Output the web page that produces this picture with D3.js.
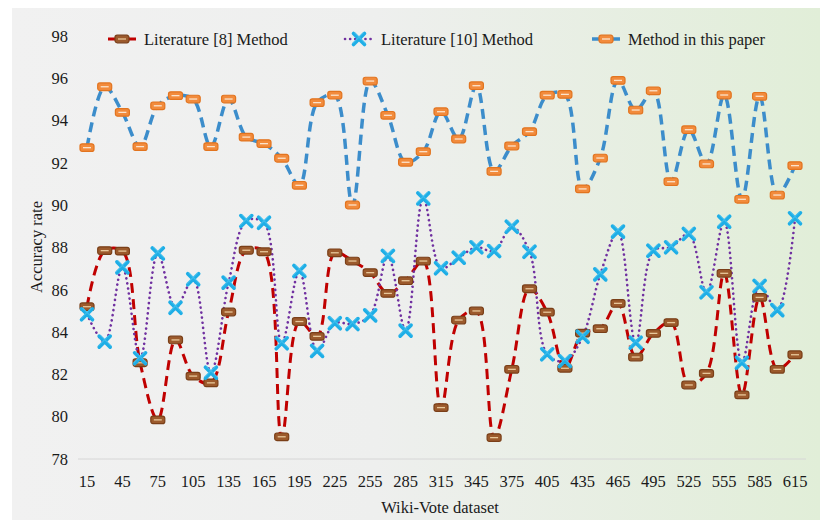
<!DOCTYPE html>
<html>
<head>
<meta charset="utf-8">
<script src="https://cdn.jsdelivr.net/npm/d3@7/dist/d3.min.js"></script>
<style>
  html, body { margin: 0; padding: 0; background: #ffffff; }
  svg { display: block; }
  text { font-family: "Liberation Serif", "Times New Roman", serif; fill: #1a1a1a; }
</style>
</head>
<body>
<svg id="chart" width="820" height="520"></svg>
<script>
// Wiki-Vote dataset sizes (x categories)
const categories = [15, 30, 45, 60, 75, 90, 105, 120, 135, 150, 165, 180, 195, 210,
  225, 240, 255, 270, 285, 300, 315, 330, 345, 360, 375, 390, 405, 420, 435, 450,
  465, 480, 495, 510, 525, 540, 555, 570, 585, 600, 615];
const xTickLabels = [15, 45, 75, 105, 135, 165, 195, 225, 255, 285, 315, 345, 375,
  405, 435, 465, 495, 525, 555, 585, 615];
const yTickLabels = [78, 80, 82, 84, 86, 88, 90, 92, 94, 96, 98];

// Accuracy rate per method
const literature8 = [85.2, 87.85, 87.83, 82.55, 79.85, 83.63, 81.92, 81.6, 84.95, 87.87,
  87.8, 79.05, 84.5, 83.8, 87.75, 87.36, 86.81, 85.83, 86.43, 87.36, 80.43, 84.57,
  85.0, 79.01, 82.24, 86.05, 84.94, 82.29, 83.95, 84.16, 85.36, 82.82, 83.94, 84.45,
  81.5, 82.05, 86.78, 81.03, 85.64, 82.24, 82.93];
const literature10 = [84.84, 83.55, 87.06, 82.76, 87.72, 85.15, 86.5, 82.08, 86.34, 89.25,
  89.17, 83.47, 86.89, 83.11, 84.42, 84.38, 84.79, 87.6, 84.07, 90.32, 87.02, 87.52,
  88.01, 87.83, 88.98, 87.8, 82.95, 82.63, 83.78, 86.73, 88.75, 83.5, 87.85, 88.01,
  88.64, 85.88, 89.22, 82.55, 86.18, 85.04, 89.38];
const thisPaper = [92.72, 95.6, 94.39, 92.77, 94.7, 95.18, 95.02, 92.77, 95.02, 93.22,
  92.91, 92.22, 90.94, 94.85, 95.2, 90.01, 95.87, 94.25, 92.03, 92.53, 94.42, 93.13,
  95.65, 91.6, 92.8, 93.48, 95.2, 95.24, 90.77, 92.23, 95.9, 94.5, 95.41, 91.11,
  93.57, 91.95, 95.21, 90.28, 95.15, 90.48, 91.87];

const seriesNames = ["Literature [8] Method", "Literature [10] Method", "Method in this paper"];

const svg = d3.select("#chart");
const W = 820, H = 520;

// background panel with a soft grey-to-green gradient
const defs = svg.append("defs");
const grad = defs.append("linearGradient").attr("id", "bg").attr("x1", "0").attr("x2", "1").attr("y1", "0").attr("y2", "0");
grad.append("stop").attr("offset", "0%").attr("stop-color", "#f1f1f1");
grad.append("stop").attr("offset", "45%").attr("stop-color", "#eeefee");
grad.append("stop").attr("offset", "100%").attr("stop-color", "#e1eed8");
svg.append("rect").attr("x", 12).attr("y", 8).attr("width", W - 12).attr("height", H - 8).attr("fill", "url(#bg)");

const x = d3.scalePoint().domain(categories).range([87, 795]);
const y = d3.scaleLinear().domain([78, 98]).range([459, 36]);

// baseline
svg.append("line").attr("x1", 78).attr("x2", 806).attr("y1", y(78)).attr("y2", y(78))
  .attr("stroke", "#d6d6d6").attr("stroke-width", 1);

// y tick labels
svg.append("g").selectAll("text").data(yTickLabels).join("text")
  .attr("x", 68).attr("y", d => y(d)).attr("dy", "0.35em")
  .attr("text-anchor", "end").attr("font-size", 16.5).text(d => d);

// x tick labels
svg.append("g").selectAll("text").data(xTickLabels).join("text")
  .attr("x", d => x(d)).attr("y", 487)
  .attr("text-anchor", "middle").attr("font-size", 16.5).text(d => d);

// axis titles
svg.append("text").attr("x", 440).attr("y", 513).attr("text-anchor", "middle")
  .attr("font-size", 16.5).text("Wiki-Vote dataset");
svg.append("text").attr("transform", "translate(42,247) rotate(-90)").attr("text-anchor", "middle")
  .attr("font-size", 16.5).text("Accuracy rate");

const line = d3.line().x((d, i) => x(categories[i])).y(d => y(d)).curve(d3.curveCatmullRom.alpha(0.5));

// marker painters
function rectMarker(g, fill, stroke, inner) {
  g.append("rect").attr("x", -7).attr("y", -3.8).attr("width", 14).attr("height", 7.6).attr("rx", 2.2)
    .attr("fill", fill).attr("stroke", stroke).attr("stroke-width", 1.2);
  g.append("line").attr("x1", -4).attr("x2", 4).attr("y1", 0).attr("y2", 0)
    .attr("stroke", inner).attr("stroke-width", 1.3);
}
function crossMarker(g) {
  const s = 5.5;
  g.append("path").attr("d", `M${-s},${-s}L${s},${s}M${-s},${s}L${s},${-s}`)
    .attr("stroke", "#1eaee6").attr("stroke-width", 3.6).attr("stroke-linecap", "round").attr("fill", "none");
  g.append("path").attr("d", `M${-s + 1},${-s - 1}L${s + 1},${s - 1}M${-s - 1},${s - 1}L${s - 1},${-s - 1}`)
    .attr("stroke", "#4cc3f0").attr("stroke-width", 1.2).attr("fill", "none").attr("opacity", 0.7);
}

const styles = [
  { data: literature8, stroke: "#c00000", width: 3, dash: "10,6", cap: "butt",
    marker: g => rectMarker(g, "#9c5a2c", "#7a3f18", "#e8c79a") },
  { data: literature10, stroke: "#7030a0", width: 2.6, dash: "0.1,5", cap: "round",
    marker: g => crossMarker(g) },
  { data: thisPaper, stroke: "#3c8dcb", width: 3.5, dash: "10,6", cap: "butt",
    marker: g => rectMarker(g, "#f28b3c", "#e2741f", "#fbe3cc") }
];

styles.forEach(s => {
  svg.append("path").datum(s.data).attr("d", line)
    .attr("fill", "none").attr("stroke", s.stroke).attr("stroke-width", s.width)
    .attr("stroke-dasharray", s.dash).attr("stroke-linecap", s.cap);
});
styles.forEach(s => {
  svg.append("g").selectAll("g").data(s.data).join("g")
    .attr("transform", (d, i) => `translate(${x(categories[i])},${y(d)})`)
    .each(function () { s.marker(d3.select(this)); });
});

// legend
const legendX = [108, 345, 592];
styles.forEach((s, i) => {
  const g = svg.append("g").attr("transform", `translate(${legendX[i]},39)`);
  g.append("line").attr("x1", 0).attr("x2", 28).attr("y1", 0).attr("y2", 0)
    .attr("stroke", s.stroke).attr("stroke-width", s.width)
    .attr("stroke-dasharray", i === 1 ? "0.1,5" : null).attr("stroke-linecap", i === 1 ? "round" : "butt");
  const m = g.append("g").attr("transform", "translate(14,0)");
  s.marker(m);
  g.append("text").attr("x", 36).attr("y", 0).attr("dy", "0.35em").attr("font-size", 16.5).text(seriesNames[i]);
});
</script>
</body>
</html>
